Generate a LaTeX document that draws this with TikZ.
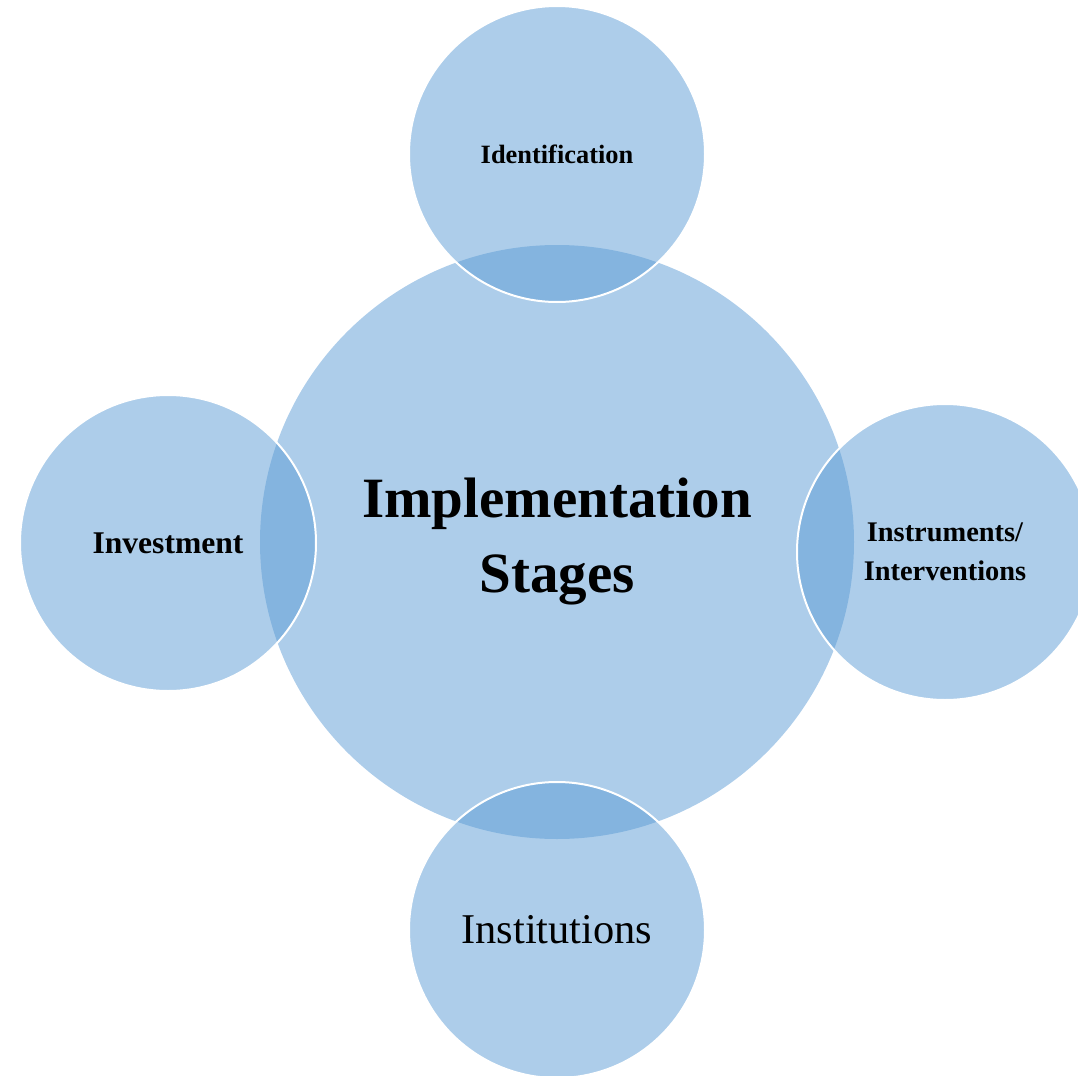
\documentclass[tikz,border=0pt]{standalone}
\usepackage{fontspec}
\setmainfont{Liberation Serif}
\definecolor{accblue}{RGB}{91,155,213}
\begin{document}
\begin{tikzpicture}[
        x=0.5pt, y=-0.5pt,
        every node/.style={circle, inner sep=0pt, fill=accblue, fill opacity=0.5, text opacity=1, text=black, align=center},
        bign/.style={minimum size=297pt, font=\bfseries\fontsize{28.5}{37.5}\selectfont},
        satn/.style={draw=white, line width=1pt, minimum size=148pt, font=\bfseries\fontsize{14.2}{19.5}\selectfont},
    ]
    \useasboundingbox (0,0) rectangle (1078,1076);
    \clip (0,0) rectangle (1078,1076);
    \node[bign](stages) at (557,542){Implementation\\Stages};
    \node[satn, font=\bfseries\fontsize{13.2}{16}\selectfont](ident) at (557,154){Identification};
    \node[satn](instr) at (945,552){Instruments/\\Interventions};
    \node[satn, font=\fontsize{21.2}{25}\selectfont](inst) at (557,930){Institutions};
    \node[satn, font=\bfseries\fontsize{15.8}{19}\selectfont](invest) at (168,543){Investment};
    \end{tikzpicture}
\end{document}
